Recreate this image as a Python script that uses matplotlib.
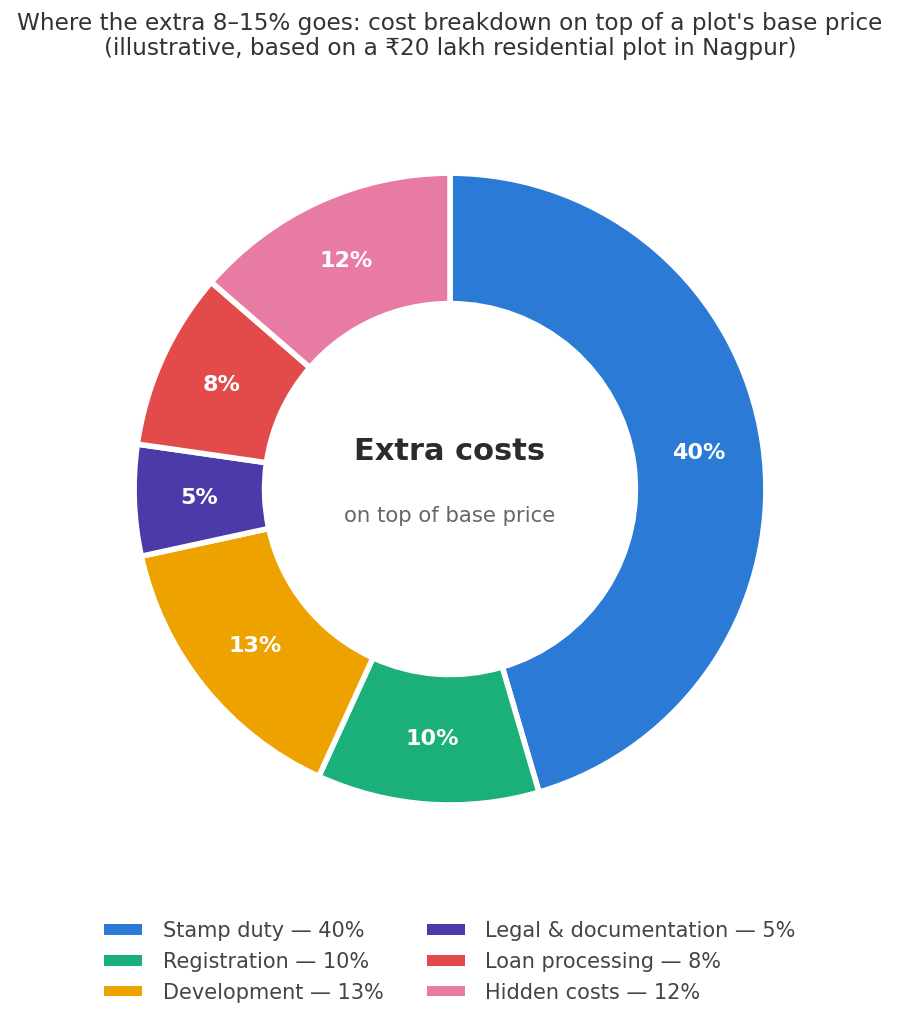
import matplotlib
matplotlib.use("Agg")
import matplotlib.pyplot as plt

categories = ["Stamp duty", "Registration", "Development", "Legal & documentation",
              "Loan processing", "Hidden costs"]
values = [40, 10, 13, 5, 8, 12]
colors = ["#2A7AD6", "#1BAF7A", "#EDA200", "#4B3BA8", "#E34B4B", "#E87BA4"]

plt.rcParams['font.family'] = ['DejaVu Sans']

fig = plt.figure(figsize=(9, 10.24), dpi=100)
ax = fig.add_axes([0.149, 0.2139, 0.702, 0.617])

wedges, texts, autotexts = ax.pie(
    values, colors=colors, startangle=90, counterclock=False,
    radius=1.0, pctdistance=0.794,
    autopct=lambda p: "",
    wedgeprops=dict(width=0.413, edgecolor="white", linewidth=4),
)
for at, v in zip(autotexts, values):
    at.set_text(f"{v}%")
    at.set_color("white")
    at.set_fontsize(16)
    at.set_fontweight("bold")
ax.set_aspect("equal")
ax.set_xlim(-1, 1)
ax.set_ylim(-1, 1)

ax.text(0, 0.12, "Extra costs", ha="center", va="center", fontsize=22,
        fontweight="bold", color="#2b2b2b")
ax.text(0, -0.085, "on top of base price", ha="center", va="center", fontsize=15.3,
        color="#666666")

fig.suptitle("Where the extra 8–15% goes: cost breakdown on top of a plot's base price\n"
             "(illustrative, based on a ₹20 lakh residential plot in Nagpur)",
             y=0.988, fontsize=16.7, color="#333333", linespacing=1.12)

labels = [f"{c} — {v}%" for c, v in zip(categories, values)]
leg = fig.legend(wedges, labels, loc="upper center", bbox_to_anchor=(0.5, 0.119),
                 ncol=2, frameon=False, fontsize=15, handlelength=1.8,
                 handleheight=0.4, handletextpad=1.0, columnspacing=2.1,
                 labelspacing=0.52)
for t in leg.get_texts():
    t.set_color("#444444")
for h in leg.legend_handles:
    h.set_linewidth(0)

fig.savefig("out.png", dpi=100)
